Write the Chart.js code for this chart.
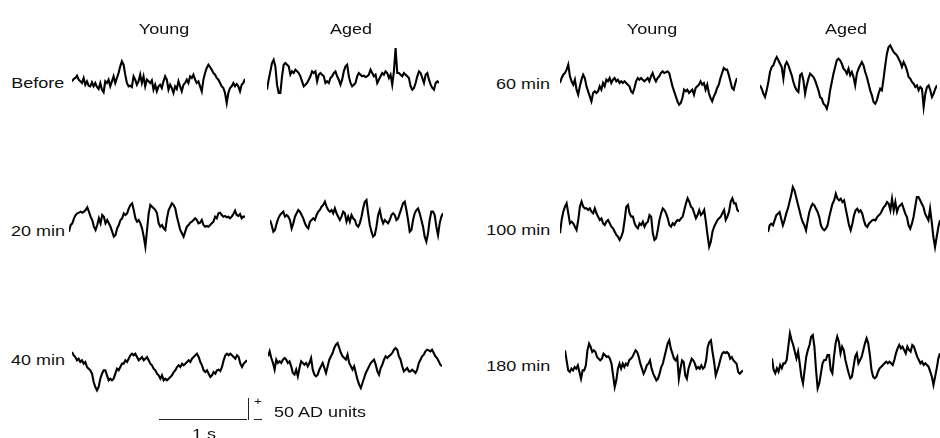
<!DOCTYPE html>
<html>
<head>
<meta charset="utf-8">
<script src="https://cdn.jsdelivr.net/npm/chart.js@4/dist/chart.umd.min.js"></script>
<style>
  body { margin: 0; background: #fff; width: 940px; height: 438px; position: relative; overflow: hidden;
         font-family: "Liberation Sans", Arial, sans-serif; color: #111; }
  canvas { position: absolute; }
  .lbl { position: absolute; font-size: 15px; line-height: 1; white-space: nowrap; }
  .bar { position: absolute; background: #222; }
</style>
</head>
<body>
<script>
// column headers and row labels
const groupLabels = ["Young", "Aged", "Young", "Aged"];
const timeLabels = ["Before", "20 min", "40 min", "60 min", "100 min", "180 min"];

// EEG traces, amplitude (3 units per pixel), equally spaced samples
const beforeYoung = [5,12,15,22,10,5,0,15,-5,5,-8,-10,2,-10,0,-12,-18,0,-20,-28,5,0,10,-10,5,20,0,15,30,50,65,55,25,0,-10,-8,-12,20,10,-5,5,25,0,20,-10,10,5,0,8,-20,-5,-25,-10,-5,-15,5,20,10,-20,-5,-15,-30,-10,-18,5,-10,-25,-5,0,10,0,20,15,25,10,0,5,-10,-25,10,30,45,55,48,40,30,25,15,10,0,-10,-15,-30,-60,-30,-15,-10,0,-10,-3,-10,-25,-5,0,12];
const beforeAged = [-35,-5,20,45,55,35,-20,-45,-45,5,40,45,40,35,10,20,15,25,20,15,5,-10,-25,-20,-15,-5,5,20,15,20,-10,10,15,10,5,-15,-10,-15,0,5,15,20,5,-5,-20,-5,20,35,40,5,-15,-25,-20,-15,5,15,10,5,7,3,5,10,25,15,5,10,-15,-5,5,15,10,20,15,0,10,-20,20,90,15,15,10,5,15,10,5,0,-25,-35,-30,-15,5,20,15,0,-15,10,15,-5,-20,-30,-35,-15,-10,-15];
const min20Young = [-35,-15,-10,5,15,20,22,25,22,25,30,38,25,10,0,-20,-30,-15,5,-10,15,10,-10,0,-10,-20,-35,-50,-45,-25,-15,0,5,20,15,20,35,45,50,30,5,-5,0,-10,-25,-50,-80,-30,20,45,40,35,30,20,-10,-20,-15,-25,-30,5,30,40,50,45,35,10,-10,-30,-40,-50,-35,-20,-15,-8,-5,0,5,0,-10,-8,0,-15,-20,-18,-20,-15,-10,-5,10,5,20,22,15,10,12,8,10,5,10,18,28,15,12,18,5,10,10];
const min20Aged = [0,-15,-35,-30,-10,5,15,20,25,10,15,10,0,-25,-10,10,20,30,25,15,5,-10,-20,-25,-5,0,5,0,15,25,30,40,45,55,40,30,25,30,20,35,20,10,0,10,25,20,-5,10,-5,15,5,0,-15,-20,-10,10,35,55,60,20,-15,-35,-50,-45,-20,15,30,5,-10,0,-5,-10,0,15,20,15,0,5,20,35,50,55,30,0,-35,-30,0,20,30,35,20,0,-20,-50,-65,-40,0,25,25,15,-20,-45,-10,10,20];
const min40Young = [45,35,30,20,25,15,20,10,15,0,-5,-10,-20,-45,-60,-70,-60,-35,-20,-10,-10,-25,-40,-35,-40,-35,-20,-5,-10,0,10,10,20,15,25,35,40,35,40,30,20,25,30,20,25,30,20,10,5,-5,-10,-20,-25,-35,-25,-40,-35,-40,-35,-30,-25,-15,-10,0,5,0,10,5,10,15,20,15,25,30,35,40,30,15,5,-10,-15,-10,-20,-30,-25,-15,-20,-10,-8,-12,0,20,35,40,35,40,35,30,25,35,30,10,0,10,15,20];
const min40Aged = [20,35,15,0,-20,10,0,5,0,10,15,10,0,5,-10,-30,-35,-20,-40,-15,5,0,-5,0,-10,0,15,-20,-35,-40,-35,-20,-10,0,-15,-30,-10,10,20,30,45,55,60,45,30,20,15,10,25,0,-10,-20,-10,-30,-50,-65,-75,-60,-45,-30,-20,-10,0,5,10,-5,-25,-35,-15,-5,10,20,15,20,25,30,40,45,40,20,10,-10,-25,-20,-15,-25,-25,-20,-25,-30,-20,0,10,20,25,35,40,38,35,40,30,20,15,5,-5,-10];
const min60Young = [0,15,25,30,40,55,20,5,-5,10,-20,-35,-10,10,25,15,-10,-25,-40,-55,-30,-25,-30,-25,-10,-20,0,-10,10,5,15,0,10,15,5,10,0,5,0,5,0,-5,-10,-25,-30,-15,5,15,10,15,10,5,10,15,5,20,30,15,5,15,20,30,35,30,32,35,30,10,-10,-25,-40,-55,-65,-60,-45,-20,-25,-20,-30,-25,-20,-35,-15,-10,-5,5,-5,0,-20,-5,-30,-45,-55,-40,-30,-15,-5,15,30,45,40,40,25,5,-15,-20,0,15];
const min60Aged = [-25,-35,-50,-60,-40,-15,15,30,35,50,60,50,40,30,-5,35,45,35,20,5,-15,-30,-40,-45,5,10,-10,-50,-25,-5,10,5,0,-10,-25,-40,-60,-65,-80,-85,-95,-75,-40,-15,10,30,50,55,50,40,25,20,10,25,5,15,0,-25,10,25,35,45,35,15,0,-20,-40,-55,-75,-80,-70,-50,-35,-40,-5,35,70,90,95,85,75,70,65,55,45,30,45,35,20,0,-5,-15,-20,-30,-25,-40,-30,-35,-90,-50,-30,-25,-40,-60,-50,-35,-25];
const min100Young = [-40,0,25,40,50,20,-10,-5,-10,-20,-30,0,40,55,40,35,35,30,35,25,20,35,20,10,0,5,-10,-15,-5,0,-10,-20,-25,-35,-45,-50,-60,-50,-35,0,40,45,20,10,10,-10,-20,-25,-10,-15,-5,-20,-10,-5,15,10,-40,-60,-55,-30,0,20,35,30,20,5,-15,-20,-10,-15,-5,0,-2,5,10,30,50,65,55,40,35,20,5,15,30,15,20,30,-5,-45,-80,-65,-35,-20,-10,0,5,10,20,30,0,10,25,55,65,50,50,30,25];
const min100Aged = [-45,-25,-20,-25,-10,5,10,15,-5,-25,-10,10,25,45,65,90,80,60,40,20,0,-15,-25,-40,-10,15,30,40,35,25,15,0,-25,-35,-40,-35,-25,0,20,40,50,70,55,50,55,45,50,25,0,-25,-40,-20,5,20,25,15,20,10,-10,-25,-30,-20,-15,-10,-8,-10,0,5,10,20,30,35,45,40,20,55,20,45,15,30,35,40,25,10,0,-25,-35,-20,0,30,60,60,50,40,30,10,0,-10,25,-15,-60,-90,-60,-30,-10];
const min180Young = [35,5,-25,-30,-20,-25,-15,-20,-10,-30,-50,-25,-25,-10,35,55,45,30,35,30,15,10,5,10,25,20,15,17,10,-5,-40,-75,-55,-20,-5,-20,-5,-15,-5,-10,5,10,15,25,35,30,15,-5,-20,-35,-25,-10,-5,5,-20,-35,-45,-55,-50,-35,-15,-5,15,35,55,65,40,25,10,5,15,-50,-20,5,0,-40,-50,-20,-5,10,5,-5,-20,-15,-20,-10,-20,-15,5,45,60,65,30,0,-40,-25,-10,10,25,30,27,30,25,10,15,5,0,-5,-30,-35,-30,-25];
const min180Aged = [5,-30,-40,-25,-35,-15,-25,-10,-10,0,40,80,60,45,25,5,25,-10,-50,-70,-30,10,30,45,70,75,40,-30,-85,-70,-40,-10,0,0,15,15,-30,-40,10,50,70,55,20,40,30,0,-20,-40,-55,-50,-20,10,20,-10,0,10,30,50,65,50,15,-30,-50,-55,-50,-35,-25,-20,-15,-10,-5,-10,-5,-10,-15,0,20,35,45,35,40,30,20,40,30,25,45,40,25,10,0,-10,-5,-15,-10,-15,-20,-35,-50,-75,-50,-25,5,20];

// where each trace sits on the page (left edge, vertical centre, width in px)
const panels = [
  { data: beforeYoung, left: 72,  cy: 83,  width: 173 },
  { data: beforeAged,  left: 267, cy: 78,  width: 172 },
  { data: min60Young,  left: 560, cy: 83,  width: 177 },
  { data: min60Aged,   left: 760, cy: 77,  width: 177 },
  { data: min20Young,  left: 69,  cy: 220, width: 176 },
  { data: min20Aged,   left: 270, cy: 220, width: 173 },
  { data: min100Young, left: 560, cy: 220, width: 179 },
  { data: min100Aged,  left: 768, cy: 217, width: 172 },
  { data: min40Young,  left: 72,  cy: 367, width: 175 },
  { data: min40Aged,   left: 268, cy: 363, width: 174 },
  { data: min180Young, left: 565, cy: 362, width: 178 },
  { data: min180Aged,  left: 772, cy: 360, width: 168 }
];

const CANVAS_H = 100;
const UNITS_PER_PX = 3;

panels.forEach(p => {
  const canvas = document.createElement("canvas");
  canvas.width = p.width;
  canvas.height = CANVAS_H;
  canvas.style.left = p.left + "px";
  canvas.style.top = (p.cy - CANVAS_H / 2) + "px";
  document.body.appendChild(canvas);

  const half = CANVAS_H / 2 * UNITS_PER_PX;
  new Chart(canvas.getContext("2d"), {
    type: "line",
    data: {
      datasets: [{
        data: p.data.map((v, i) => ({ x: i, y: v })),
        borderColor: "#000",
        borderWidth: 2.1,
        borderJoinStyle: "miter",
        pointRadius: 0,
        tension: 0,
        clip: false
      }]
    },
    options: {
      responsive: false,
      animation: false,
      devicePixelRatio: 1,
      layout: { padding: 0 },
      plugins: { legend: { display: false }, tooltip: { enabled: false } },
      scales: {
        x: { type: "linear", display: false, min: 0, max: p.data.length - 1 },
        y: { display: false, min: -half, max: half }
      }
    }
  });
});

// text helpers
function addText(text, x, y, align) {
  const d = document.createElement("div");
  d.className = "lbl";
  d.textContent = text;
  d.style.top = y + "px";
  if (align === "right") {
    d.style.right = (940 - x) + "px";
    d.style.transformOrigin = "right center";
    d.style.transform = "translateY(-50%) scaleX(1.2)";
  } else if (align === "center") {
    d.style.left = x + "px";
    d.style.transform = "translate(-50%, -50%) scaleX(1.2)";
  } else {
    d.style.left = x + "px";
    d.style.transformOrigin = "left center";
    d.style.transform = "translateY(-50%) scaleX(1.2)";
  }
  document.body.appendChild(d);
  return d;
}

const headerX = [164, 351, 652, 846];
groupLabels.forEach((t, i) => addText(t, headerX[i], 28, "center"));

const rowPos = [[64, 82], [65, 230], [65, 359], [550, 83], [550, 229], [550, 365]];
timeLabels.forEach((t, i) => addText(t, rowPos[i][0], rowPos[i][1], "right"));

// scale bar: 1 s horizontal, 50 AD units vertical
function addBar(x, y, w, h) {
  const b = document.createElement("div");
  b.className = "bar";
  Object.assign(b.style, { left: x + "px", top: y + "px", width: w + "px", height: h + "px" });
  document.body.appendChild(b);
}
addBar(159, 419, 88, 1);
addBar(248, 398, 1, 22);
addBar(254, 419, 8, 1);
const plus = addText("+", 254, 401, "left");
plus.style.fontSize = "11px";
addText("50 AD units", 274, 411, "left");
addText("1 s", 204, 433, "center");
</script>
</body>
</html>
